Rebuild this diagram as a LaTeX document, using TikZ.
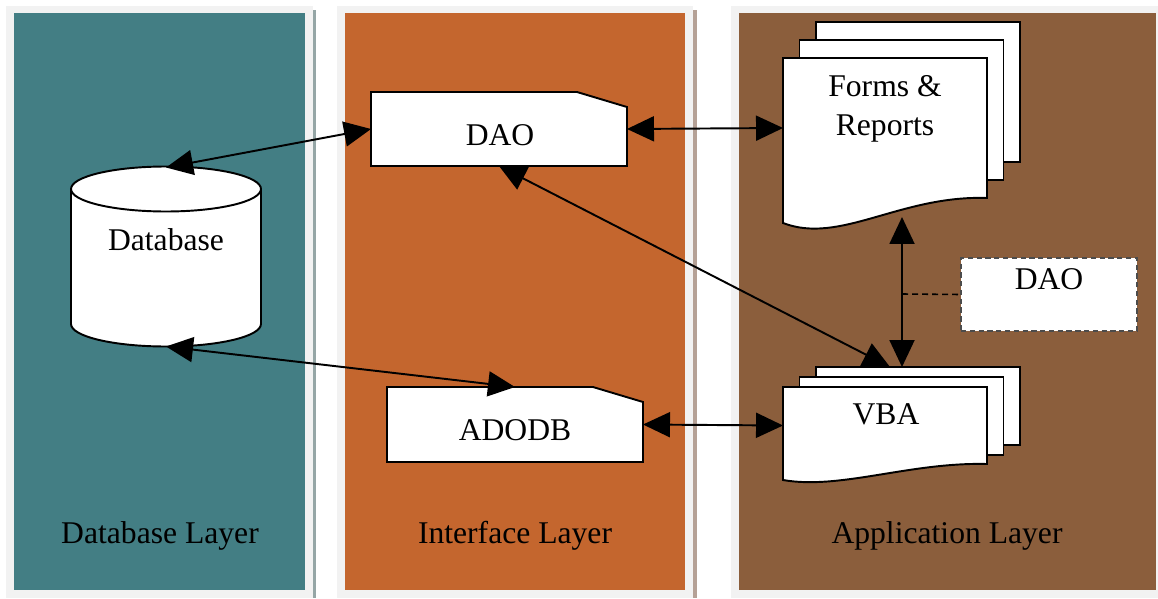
\documentclass[tikz,border=0pt]{standalone}
\usepackage{fontspec}
\setmainfont{Liberation Serif}
\usetikzlibrary{arrows.meta,positioning}

\definecolor{dbteal}{HTML}{437E84}
\definecolor{ifrust}{HTML}{C4662E}
\definecolor{appbrown}{HTML}{8B5E3C}
\definecolor{panelgrey}{HTML}{F2F2F2}
\definecolor{tealshade}{HTML}{95A6A6}
\definecolor{rustshade}{HTML}{B5A196}

\begin{document}
\begin{tikzpicture}[
                    x=0.02cm, y=-0.02cm,
                    >={Triangle[length=0.54cm,width=0.5cm]},
                    line width=1.1pt,
                    font=\fontsize{18}{22}\selectfont,
                    frame/.style={inner sep=0pt, outer sep=0pt},
                    link/.style={<->},
                    txt/.style={anchor=base, inner sep=0pt}
                ]
                \useasboundingbox (0,0) rectangle (1158,598);

                % layers
                \fill[panelgrey] (6,6) rectangle (313,598);
                \fill[dbteal] (14,13) rectangle (305,590);
                \fill[tealshade] (313,10) rectangle (316,598);
                \fill[panelgrey] (337,6) rectangle (693,598);
                \fill[ifrust] (345,13) rectangle (685,590);
                \fill[rustshade] (693,10) rectangle (697,598);
                \fill[panelgrey] (731,6) rectangle (1158,598);
                \fill[appbrown] (739,13) rectangle (1156,590);

                \node[txt] at (160,543) {Database Layer};
                \node[txt] at (515,543) {Interface Layer};
                \node[txt] at (947,543) {Application Layer};

                % database
                \node (db) [frame, minimum width=3.8cm, minimum height=3.58cm] at (166,257) {};
                \draw[fill=white] (71,189) -- (71,324)
                    arc[start angle=180, end angle=360, x radius=1.9cm, y radius=0.45cm]
                    -- (261,189)
                    arc[start angle=0, end angle=180, x radius=1.9cm, y radius=0.45cm] -- cycle;
                \draw (71,189) arc[start angle=180, end angle=360, x radius=1.9cm, y radius=0.45cm];
                \node[txt] at (166,250) {Database};

                % interface objects
                \node (dao) [frame, minimum width=5.12cm, minimum height=1.48cm] at (499,129) {};
                \draw[fill=white] (dao.north west) -- ([xshift=-1cm]dao.north east)
                    -- ([yshift=-0.3cm]dao.north east) -- (dao.south east) -- (dao.south west) -- cycle;
                \node[txt] at (500,145) {DAO};

                \node (adodb) [frame, minimum width=5.12cm, minimum height=1.5cm] at (515,424.5) {};
                \draw[fill=white] (adodb.north west) -- ([xshift=-1cm]adodb.north east)
                    -- ([yshift=-0.3cm]adodb.north east) -- (adodb.south east) -- (adodb.south west) -- cycle;
                \node[txt] at (515,440) {ADODB};

                % application objects
                \foreach \k in {2,1}
                    \draw[fill=white] (783+16.5*\k,58-18*\k) rectangle +(204,140);
                \node (forms) [frame, minimum width=4.08cm, minimum height=2.8cm] at (885,128) {};
                \draw[fill=white] (783,58) -- (987,58) -- (987,198)
                    .. controls (900,195) and (840,245) .. (783,223) -- cycle;
                \node[align=center, inner sep=0pt] at (885,109) {Forms \&\\Reports};

                \foreach \k in {2,1}
                    \draw[fill=white] (783+16.5*\k,387-10*\k) rectangle +(204,78);
                \node (vba) [frame, minimum width=4.08cm, minimum height=1.54cm] at (885,425.5) {};
                \draw[fill=white] (783,387) -- (987,387) -- (987,464)
                    .. controls (910,462) and (840,490) .. (783,480) -- cycle;
                \node[txt] at (886,424) {VBA};

                \node (app-dao) [frame, draw=black!70, line width=0.8pt, dash pattern=on 3pt off 2pt,
                    fill=white, minimum width=3.52cm, minimum height=1.46cm] at (1049,294.5) {};
                \node[txt] at (1049,289) {DAO};

                % connectors
                \coordinate (forms-in) at (902,217);
                \coordinate (vba-in) at (902,367);
                \coordinate (vba-diag) at (890,367);
                \coordinate (tap) at (902,294);

                \draw[link] (db.north) -- (dao.west);
                \draw[link] (db.south) -- (adodb.north);
                \draw[link] (dao.east) -- (forms.west);
                \draw[link] (adodb.east) -- (vba.west);
                \draw[link] (dao.south) -- (vba-diag);
                \draw[link] (forms-in) -- (vba-in);
                \draw[line width=0.9pt, dash pattern=on 0.12cm off 0.08cm] (tap) -- (app-dao.west);
            \end{tikzpicture}
\end{document}
